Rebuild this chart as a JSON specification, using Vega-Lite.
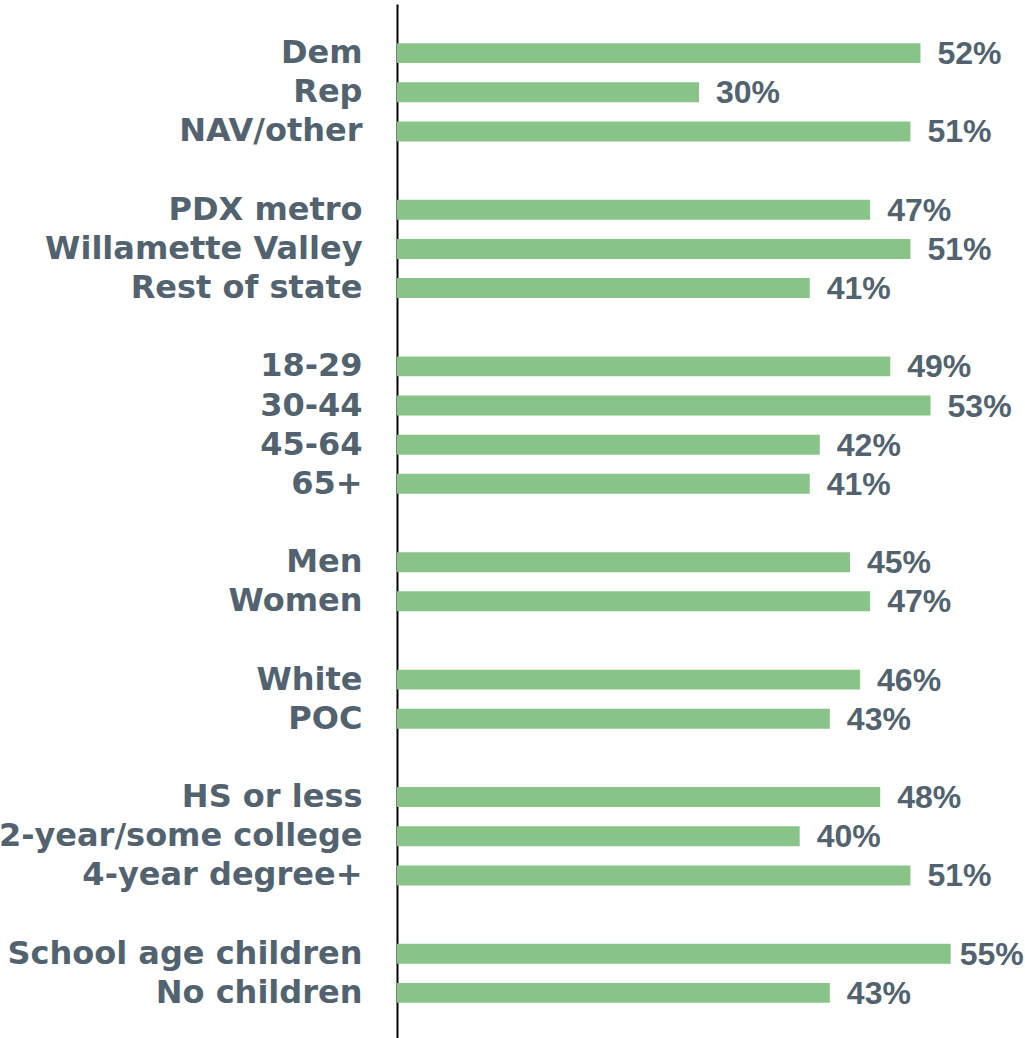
{
  "$schema": "https://vega.github.io/schema/vega-lite/v6.json",
  "autosize": "none",
  "padding": {"left": 397, "top": 4, "right": 24, "bottom": 0},
  "width": 604,
  "height": 1038,
  "background": "white",
  "config": {"view": {"stroke": null}},
  "data": {
    "values": [
      {"group": "Dem", "share": 0.52},
      {"group": "Rep", "share": 0.30},
      {"group": "NAV/other", "share": 0.51},
      {"group": "PDX metro", "share": 0.47},
      {"group": "Willamette Valley", "share": 0.51},
      {"group": "Rest of state", "share": 0.41},
      {"group": "18-29", "share": 0.49},
      {"group": "30-44", "share": 0.53},
      {"group": "45-64", "share": 0.42},
      {"group": "65+", "share": 0.41},
      {"group": "Men", "share": 0.45},
      {"group": "Women", "share": 0.47},
      {"group": "White", "share": 0.46},
      {"group": "POC", "share": 0.43},
      {"group": "HS or less", "share": 0.48},
      {"group": "2-year/some college", "share": 0.40},
      {"group": "4-year degree+", "share": 0.51},
      {"group": "School age children", "share": 0.55},
      {"group": "No children", "share": 0.43}
    ]
  },
  "encoding": {
    "y": {
      "field": "group",
      "type": "nominal",
      "sort": null,
      "scale": {
        "domain": ["Dem", "Rep", "NAV/other", "gap1", "PDX metro", "Willamette Valley", "Rest of state", "gap2", "18-29", "30-44", "45-64", "65+", "gap3", "Men", "Women", "gap4", "White", "POC", "gap5", "HS or less", "2-year/some college", "4-year degree+", "gap6", "School age children", "No children"],
        "paddingInner": 0.49,
        "paddingOuter": 1.0
      },
      "axis": {
        "title": null,
        "ticks": false,
        "grid": false,
        "labelPadding": 35,
        "labelLimit": 500,
        "labelFont": "DejaVu Sans",
        "labelFontWeight": "bold",
        "labelFontSize": 32,
        "labelColor": "#52636f",
        "labelBaseline": "middle",
        "labelExpr": "indexof(datum.value, 'gap') == 0 ? '' : datum.value",
        "domainColor": "#000000",
        "domainWidth": 2
      }
    },
    "x": {
      "field": "share",
      "type": "quantitative",
      "scale": {"domain": [0, 0.6]},
      "axis": null
    }
  },
  "layer": [
    {"mark": {"type": "bar", "color": "#88c487"}},
    {
      "transform": [{"filter": "datum.share < 0.55"}],
      "mark": {
        "type": "text",
        "align": "left",
        "baseline": "middle",
        "dx": 17,
        "dy": 1,
        "font": "Liberation Sans",
        "fontWeight": "bold",
        "fontSize": 32,
        "color": "#52636f"
      },
      "encoding": {"text": {"field": "share", "type": "quantitative", "format": ".0%"}}
    },
    {
      "transform": [{"filter": "datum.share >= 0.55"}],
      "mark": {
        "type": "text",
        "align": "left",
        "baseline": "middle",
        "dx": 9,
        "dy": 1,
        "font": "Liberation Sans",
        "fontWeight": "bold",
        "fontSize": 32,
        "color": "#52636f"
      },
      "encoding": {"text": {"field": "share", "type": "quantitative", "format": ".0%"}}
    }
  ]
}
